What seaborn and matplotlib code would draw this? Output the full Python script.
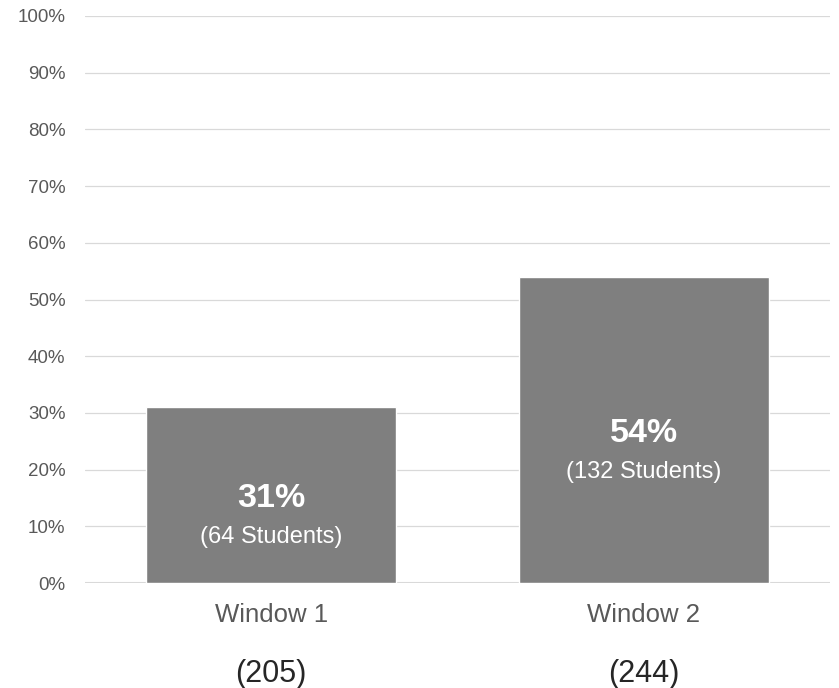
import matplotlib
matplotlib.use("Agg")
import matplotlib.pyplot as plt
import seaborn as sns
import pandas as pd

# Share of students per enrolment window
windows = ["Window 1", "Window 2"]
percent = [31, 54]
students = [64, 132]
totals = [205, 244]

df = pd.DataFrame({"window": windows, "percent": percent})

sns.set_theme(style="white")
plt.rcParams["font.family"] = ["Liberation Sans", "DejaVu Sans"]

fig = plt.figure(figsize=(8.39, 6.88), dpi=100)
ax = fig.add_axes([85 / 839, 1 - 583 / 688, 745 / 839, 567 / 688])

sns.barplot(data=df, x="window", y="percent", color="#7f7f7f", saturation=1,
            width=0.67, ax=ax, zorder=2)

ax.set_ylim(0, 100)
ax.set_xlim(-0.5, 1.5)
ax.set_yticks(range(0, 101, 10))
ax.set_yticklabels([f"{t}%" for t in range(0, 101, 10)])
ax.yaxis.grid(True, color="#d9d9d9", linewidth=0.9, zorder=0)
ax.set_axisbelow(True)
for s in ax.spines.values():
    s.set_visible(False)
ax.axhline(0, color="#d9d9d9", linewidth=1.5, zorder=1)

ax.set_xlabel("")
ax.set_ylabel("")
ax.tick_params(axis="y", length=0, pad=14, labelsize=13.5, labelcolor="#595959")
ax.tick_params(axis="x", length=0, pad=14.5, labelsize=18.5, labelcolor="#595959")

# Value labels inside the bars
for i, (p, n) in enumerate(zip(percent, students)):
    ax.annotate(f"{p}%", xy=(i, p / 2), xytext=(0, -2.5),
                textcoords="offset points", ha="center", va="center",
                color="white", fontsize=24.5, fontweight="bold")
    ax.annotate(f"({n} Students)", xy=(i, p / 2), xytext=(0, -30.5),
                textcoords="offset points", ha="center", va="center",
                color="white", fontsize=17)

# Group sizes beneath the category labels
for i, t in enumerate(totals):
    ax.annotate(f"({t})", xy=(i, 0), xycoords=("data", "axes fraction"),
                xytext=(0, -65.5), textcoords="offset points", ha="center",
                va="center", color="#262626", fontsize=22)

fig.savefig("out.png", dpi=100)
